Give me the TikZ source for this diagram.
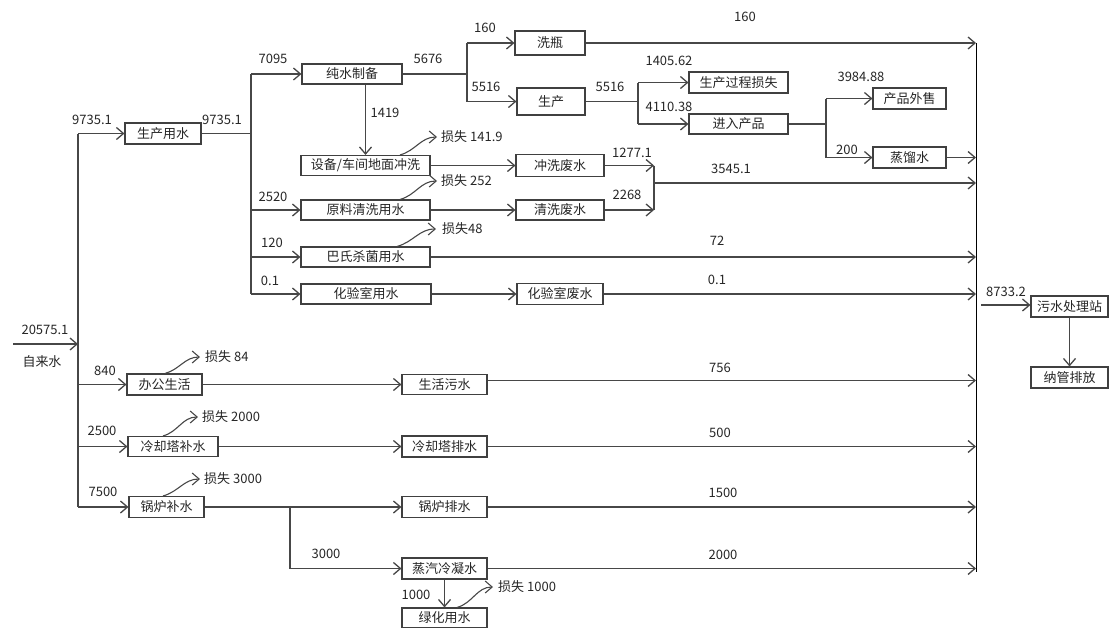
\documentclass[tikz,border=0pt]{standalone}
\usepackage{fontspec}
\setmainfont{Noto Sans CJK SC}
\usetikzlibrary{arrows.meta}
\begin{document}
\begin{tikzpicture}[x=1pt,y=-1pt,
  every node/.style={font=\fontsize{13}{15}\selectfont, text=black!85},
  box/.style={draw=black!75, line width=1.1pt, inner sep=0pt, fill=white},
  ln/.style={draw=black!72, line width=1.3pt},
  arr/.style={ln, -{Straight Barb[length=7pt,width=12pt]}},
  lbl/.style={inner sep=0pt},
  lossl/.style={inner sep=0pt, anchor=west},
  lossc/.style={arr, line width=1.1pt, out=15, in=180},
  col/.style={draw=black, line width=0.9pt}]
\useasboundingbox (0,0) rectangle (1111,627);

% ---------- boxes ----------
\node[box, minimum width=76pt, minimum height=21pt] (scys) at (163,133.5) {生产用水};
\node[box, minimum width=100pt, minimum height=20pt] (pure) at (352,74) {纯水制备};
\node[box, minimum width=70pt, minimum height=24pt] (xp) at (550,43) {洗瓶};
\node[box, minimum width=68pt, minimum height=27pt] (sc) at (551,101.5) {生产};
\node[box, minimum width=99pt, minimum height=21pt] (loss) at (738.5,82.5) {生产过程损失};
\node[box, minimum width=99pt, minimum height=20pt] (jr) at (738.5,124) {进入产品};
\node[box, minimum width=73pt, minimum height=21pt] (cpws) at (909.5,98.5) {产品外售};
\node[box, minimum width=73pt, minimum height=21pt] (zls) at (909.5,157.5) {蒸馏水};
\node[box, minimum width=129pt, minimum height=20pt] (sb) at (365.5,165.5) {设备/车间地面冲洗};
\node[box, minimum width=88pt, minimum height=22pt] (cxfs) at (560,165.5) {冲洗废水};
\node[box, minimum width=129pt, minimum height=20pt] (yl) at (365.5,210) {原料清洗用水};
\node[box, minimum width=88pt, minimum height=20pt] (qxfs) at (560,210) {清洗废水};
\node[box, minimum width=129pt, minimum height=20pt] (bs) at (365.5,257) {巴氏杀菌用水};
\node[box, minimum width=130pt, minimum height=20pt] (hys) at (366,294) {化验室用水};
\node[box, minimum width=86pt, minimum height=21pt] (hyf) at (560,294) {化验室废水};
\node[box, minimum width=75pt, minimum height=21pt] (bg) at (164.5,384.5) {办公生活};
\node[box, minimum width=85pt, minimum height=20pt] (shws) at (444.5,384.5) {生活污水};
\node[box, minimum width=90pt, minimum height=20pt] (lqt) at (173,446.5) {冷却塔补水};
\node[box, minimum width=85pt, minimum height=21pt] (lqp) at (444.5,446.5) {冷却塔排水};
\node[box, minimum width=75pt, minimum height=21pt] (gl) at (166.5,507) {锅炉补水};
\node[box, minimum width=85pt, minimum height=21pt] (glp) at (444.5,507) {锅炉排水};
\node[box, minimum width=85pt, minimum height=21pt] (zq) at (444.5,568.5) {蒸汽冷凝水};
\node[box, minimum width=85pt, minimum height=20pt] (lh) at (444.5,618) {绿化用水};
\node[box, minimum width=77pt, minimum height=21pt] (ws) at (1069.5,306.5) {污水处理站};
\node[box, minimum width=77pt, minimum height=21pt] (ng) at (1069.5,377.5) {纳管排放};

% ---------- junction coordinates ----------
\coordinate (src) at (13,344);
\coordinate (A0) at (78,344);
\coordinate (A1) at (78,133.5);
\coordinate (A2) at (78,507);
\coordinate (B1) at (251,74);
\coordinate (B2) at (251,294);
\coordinate (C1) at (467,43);
\coordinate (C2) at (467,101.5);
\coordinate (D1) at (638,82.5);
\coordinate (D2) at (638,124);
\coordinate (E1) at (826,98.5);
\coordinate (E2) at (826,157.5);
\coordinate (F1) at (654,165.5);
\coordinate (F2) at (654,210);
\coordinate (F3) at (654,183);
\coordinate (G1) at (290,507);
\coordinate (G2) at (290,568.5);
\coordinate (K1) at (976,43);
\coordinate (K2) at (976,572);
\coordinate (W0) at (981,305);

% ---------- connectors ----------
\draw[arr] (src) -- (A0);
\draw[ln] (A1) -- (A2);
\draw[arr] (A1) -- (scys.west);
\draw[arr] (A1 |- bg) -- (bg.west);
\draw[arr] (A1 |- lqt) -- (lqt.west);
\draw[arr] (A1 |- gl) -- (gl.west);

\draw[ln] (scys.east) -- (scys.east -| B1);
\draw[ln] (B1) -- (B2);
\draw[arr] (B1) -- (pure.west);
\draw[arr] (B1 |- yl) -- (yl.west);
\draw[arr] (B1 |- bs) -- (bs.west);
\draw[arr] (B2) -- (hys.west);

\draw[ln] (pure.east) -- (pure.east -| C1);
\draw[ln] (C1) -- (C2);
\draw[arr] (C1) -- (xp.west);
\draw[arr] (C2) -- (sc.west);
\draw[arr] (sb.north |- pure.south) -- (sb.north);

\draw[ln] (sc.east) -- (sc.east -| D1);
\draw[ln] (D1) -- (D2);
\draw[arr] (D1) -- (loss.west);
\draw[arr] (D2) -- (jr.west);

\draw[ln] (jr.east) -- (jr.east -| E1);
\draw[ln] (E1) -- (E2);
\draw[arr] (E1) -- (cpws.west);
\draw[arr] (E2) -- (zls.west);

\draw[col] (K1) -- (K2);
\draw[arr] (xp.east) -- (K1);
\draw[arr] (zls.east) -- (zls.east -| K1);

\draw[arr] (sb.east) -- (cxfs.west);
\draw[arr] (yl.east) -- (qxfs.west);
\draw[arr] (cxfs.east) -- (F1);
\draw[arr] (qxfs.east) -- (F2);
\draw[ln] (F1) -- (F2);
\draw[arr] (F3) -- (F3 -| K1);

\draw[arr] (bs.east) -- (bs.east -| K1);
\draw[arr] (hys.east) -- (hyf.west);
\draw[arr] (hyf.east) -- (hyf.east -| K1);

\draw[arr] (bg.east) -- (shws.west);
\draw[arr] ([yshift=4pt]shws.east) -- ([yshift=4pt]shws.east -| K1);
\draw[arr] (lqt.east) -- (lqp.west);
\draw[arr] (lqp.east) -- (lqp.east -| K1);
\draw[arr] (gl.east) -- (glp.west);
\draw[arr] (glp.east) -- (glp.east -| K1);
\draw[ln] (G1) -- (G2);
\draw[arr] (G2) -- (zq.west);
\draw[arr] (zq.east) -- (zq.east -| K1);
\draw[arr] (zq.south) -- (lh.north);

\draw[arr] (W0) -- (W0 -| ws.west);
\draw[arr] (ws.south) -- (ng.north);

% ---------- loss labels and curves ----------
\node[lossl] (L1) at (441,137) {损失 141.9};
\node[lossl] (L2) at (441,181) {损失 252};
\node[lossl] (L3) at (442,229) {损失48};
\node[lossl] (L4) at (205,357) {损失 84};
\node[lossl] (L5) at (202,417) {损失 2000};
\node[lossl] (L6) at (204,479) {损失 3000};
\node[lossl] (L7) at (498,587) {损失 1000};
\draw[lossc] ([xshift=34.5pt]sb.north) to ([xshift=-4pt]L1.west);
\draw[lossc] ([xshift=34.5pt]yl.north) to ([xshift=-4pt]L2.west);
\draw[lossc] ([xshift=31.5pt]bs.north) to ([xshift=-6pt]L3.west);
\draw[lossc] ([xshift=0.5pt]bg.north) to ([xshift=-5pt]L4.west);
\draw[lossc] ([xshift=-10pt]lqt.north) to ([xshift=-4pt]L5.west);
\draw[lossc] ([xshift=-3.5pt]gl.north) to ([xshift=-4pt]L6.west);
\draw[lossc] ([xshift=12.5pt]lh.north) to ([xshift=-5pt]L7.west);

% ---------- flow labels ----------
\node[lbl] (t1) at (92,120) {9735.1};
\node[lbl] (t2) at (222,120) {9735.1};
\node[lbl] (t3) at (273,59) {7095};
\node[lbl] (t4) at (273,197) {2520};
\node[lbl] (t5) at (272,243) {120};
\node[lbl] (t6) at (270,281) {0.1};
\node[lbl] (t7) at (428,59) {5676};
\node[lbl] (t8) at (485,28) {160};
\node[lbl] (t9) at (486,87) {5516};
\node[lbl] (t10) at (610,87) {5516};
\node[lbl] (t11) at (669,61) {1405.62};
\node[lbl] (t12) at (669,107) {4110.38};
\node[lbl] (t13) at (385,113) {1419};
\node[lbl] (t14) at (632,153) {1277.1};
\node[lbl] (t15) at (627,195) {2268};
\node[lbl] (t16) at (731,169) {3545.1};
\node[lbl] (t17) at (745,17) {160};
\node[lbl] (t18) at (861,77) {3984.88};
\node[lbl] (t19) at (847,150) {200};
\node[lbl] (t20) at (717,241) {72};
\node[lbl] (t21) at (717,280) {0.1};
\node[lbl] (t22) at (720,368) {756};
\node[lbl] (t23) at (45,330) {20575.1};
\node[lbl] (t24) at (42,362) {自来水};
\node[lbl] (t25) at (105,371) {840};
\node[lbl] (t26) at (102,431) {2500};
\node[lbl] (t27) at (103,492) {7500};
\node[lbl] (t28) at (326,554) {3000};
\node[lbl] (t29) at (720,433) {500};
\node[lbl] (t30) at (723,493) {1500};
\node[lbl] (t31) at (723,555) {2000};
\node[lbl] (t32) at (416,595) {1000};
\node[lbl] (t33) at (1006,292) {8733.2};
\end{tikzpicture}
\end{document}
